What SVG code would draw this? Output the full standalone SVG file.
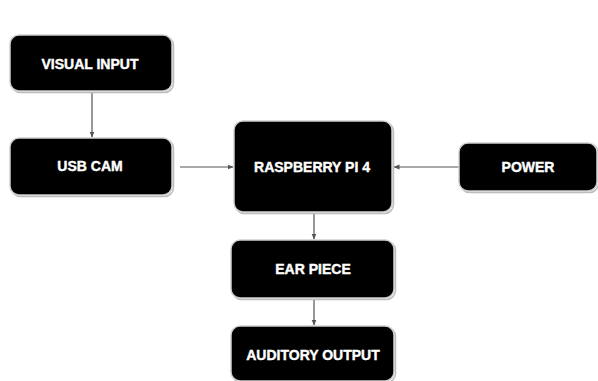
<svg xmlns="http://www.w3.org/2000/svg" width="598" height="381" viewBox="0 0 598 381">
<defs>
<style>
.box{fill:#000;stroke:#cfcfcf;stroke-width:1.5}
.sh{fill:none;stroke:#bdbdbd;stroke-width:1.5}
.lbl{fill:#fff;stroke:#fff;stroke-width:0.4;font-family:"Liberation Sans",Arial,sans-serif;font-weight:bold;font-size:14px;text-anchor:middle;dominant-baseline:central}
.con{stroke:#555;stroke-width:1.2;fill:none}
</style>
<marker id="ah" viewBox="0 0 6 6" refX="5.5" refY="3" markerWidth="5" markerHeight="5" orient="auto">
<path d="M0,0.5 L6,3 L0,5.5 Z" fill="#555"/>
</marker>
</defs>
<rect width="598" height="381" fill="#fff"/>
<g id="connectors">
<line class="con" x1="92" y1="92" x2="92" y2="137" marker-end="url(#ah)"/>
<line class="con" x1="180" y1="167" x2="233" y2="167" marker-end="url(#ah)"/>
<line class="con" x1="459" y1="167" x2="394" y2="167" marker-end="url(#ah)"/>
<line class="con" x1="314" y1="213" x2="314" y2="239" marker-end="url(#ah)"/>
<line class="con" x1="314" y1="299" x2="314" y2="325" marker-end="url(#ah)"/>
</g>
<g id="visual-input">
<rect class="sh" x="11.5" y="36.5" width="162" height="56" rx="9"/>
<rect class="box" x="10" y="35" width="162" height="56" rx="9"/>
<text class="lbl" x="90" y="64">VISUAL INPUT</text>
</g>
<g id="usb-cam">
<rect class="sh" x="11.5" y="139.5" width="162" height="57" rx="9"/>
<rect class="box" x="10" y="138" width="162" height="57" rx="9"/>
<text class="lbl" x="90" y="166">USB CAM</text>
</g>
<g id="raspberry-pi">
<rect class="sh" x="235.5" y="122.5" width="158" height="91" rx="9"/>
<rect class="box" x="234" y="121" width="158" height="91" rx="9"/>
<text class="lbl" x="312" y="167">RASPBERRY PI 4</text>
</g>
<g id="power">
<rect class="sh" x="460.5" y="144.5" width="138" height="48" rx="9"/>
<rect class="box" x="459" y="143" width="138" height="48" rx="9"/>
<text class="lbl" x="528" y="167">POWER</text>
</g>
<g id="ear-piece">
<rect class="sh" x="232.5" y="241.5" width="163" height="58" rx="9"/>
<rect class="box" x="231" y="240" width="163" height="58" rx="9"/>
<text class="lbl" x="313" y="269">EAR PIECE</text>
</g>
<g id="auditory-output">
<rect class="sh" x="232.5" y="327.5" width="163" height="55" rx="9"/>
<rect class="box" x="231" y="326" width="163" height="55" rx="9"/>
<text class="lbl" x="313" y="355">AUDITORY OUTPUT</text>
</g>
</svg>
